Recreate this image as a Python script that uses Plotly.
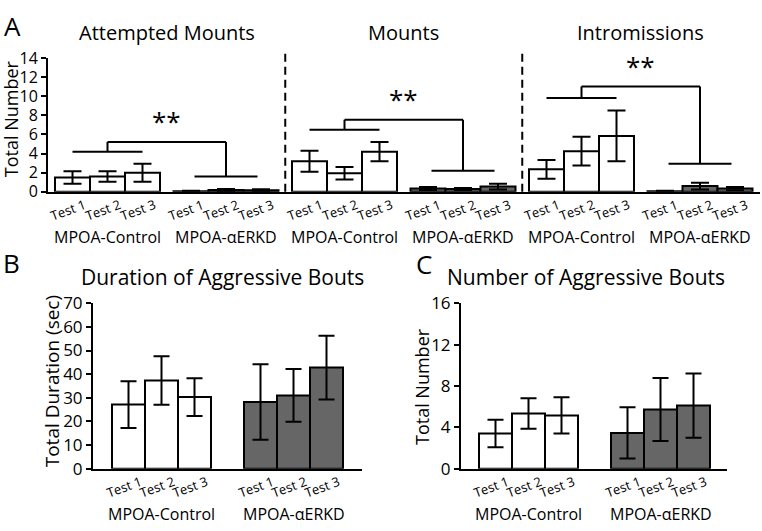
import plotly.graph_objects as go

# ---------------- data ----------------
tests = ["Test 1", "Test 2", "Test 3"]
groups = ["MPOA-Control", "MPOA-αERKD"]
behaviors = ["Attempted Mounts", "Mounts", "Intromissions"]

attempted_ctrl = [1.5, 1.6, 2.0]
attempted_ctrl_err = [0.65, 0.55, 0.95]
attempted_erkd = [0.07, 0.2, 0.17]
attempted_erkd_err = [0.05, 0.1, 0.1]

mounts_ctrl = [3.2, 1.95, 4.2]
mounts_ctrl_err = [1.1, 0.65, 1.0]
mounts_erkd = [0.35, 0.3, 0.55]
mounts_erkd_err = [0.15, 0.1, 0.3]

intro_ctrl = [2.35, 4.25, 5.85]
intro_ctrl_err = [0.97, 1.5, 2.65]
intro_erkd = [0.07, 0.6, 0.35]
intro_erkd_err = [0.05, 0.35, 0.17]

# significance bracket levels (control line, αERKD line, connector) per behavior
bracket_levels = [(4.2, 1.6, 5.2), (6.5, 2.2, 7.55), (9.8, 2.95, 11.0)]

duration_ctrl = [27.1, 37.3, 30.3]
duration_ctrl_err = [9.9, 10.3, 8.0]
duration_erkd = [28.2, 31.0, 42.8]
duration_erkd_err = [16.0, 11.2, 13.5]

number_ctrl = [3.4, 5.33, 5.15]
number_ctrl_err = [1.33, 1.47, 1.75]
number_erkd = [3.45, 5.73, 6.1]
number_erkd_err = [2.48, 3.05, 3.1]

# ---------------- styling ----------------
FONT = "Open Sans"
W, H = 762, 531
WHITE = "#ffffff"
GRAY = "#666666"
fills = [WHITE, GRAY]


def px_x(p):
    return p / W


def px_y(p):
    return 1 - p / H


def txt(**kw):
    d = dict(showarrow=False, xanchor="center", yanchor="middle")
    d.update(kw)
    return d


fig = go.Figure()

# ---------- Panel A geometry ----------
A_bar_px = 35.0
A_first_px = 72.5
A_stride = 118.5 / A_bar_px
A_left, A_right, A_top, A_bot = 48, 760, 48, 188


def posA(g, t):
    return g * A_stride + t


A_vals = [(attempted_ctrl, attempted_ctrl_err), (attempted_erkd, attempted_erkd_err),
          (mounts_ctrl, mounts_ctrl_err), (mounts_erkd, mounts_erkd_err),
          (intro_ctrl, intro_ctrl_err), (intro_erkd, intro_erkd_err)]

annotations = []
shapes = []

for g, (vals, errs) in enumerate(A_vals):
    xs = [posA(g, t) for t in range(3)]
    fig.add_trace(go.Bar(
        x=xs, y=vals, width=1, xaxis="x", yaxis="y",
        marker=dict(color=fills[g % 2], line=dict(color="black", width=2)),
        error_y=dict(type="data", array=errs, color="black", thickness=2, width=9),
        showlegend=False, hoverinfo="skip"))
    for t, x in enumerate(xs):
        annotations.append(txt(x=x, y=0, xref="x", yref="y", text=tests[t],
                               textangle=-20, xshift=-5, yshift=-18,
                               font=dict(family=FONT, size=13, color="black")))
    annotations.append(txt(x=posA(g, 1), y=0, xref="x", yref="y", text=groups[g % 2],
                           yshift=-45, font=dict(family=FONT, size=16, color="black")))

# behavior titles, brackets, stars, dividers
for b, name in enumerate(behaviors):
    gc, ge = 2 * b, 2 * b + 1
    annotations.append(txt(x=(posA(gc, 1) + posA(ge, 1)) / 2, y=px_y(21), xref="x", yref="paper",
                           text=name, font=dict(family=FONT, size=20, color="black")))
    lc, le, top = bracket_levels[b]
    line = dict(color="black", width=2)
    shapes.append(dict(type="line", xref="x", yref="y", x0=posA(gc, 0), x1=posA(gc, 2), y0=lc, y1=lc, line=line))
    shapes.append(dict(type="line", xref="x", yref="y", x0=posA(ge, 0) + 0.1, x1=posA(ge, 2) - 0.1, y0=le, y1=le, line=line))
    shapes.append(dict(type="line", xref="x", yref="y", x0=posA(gc, 1), x1=posA(ge, 1), y0=top, y1=top, line=line))
    shapes.append(dict(type="line", xref="x", yref="y", x0=posA(gc, 1), x1=posA(gc, 1), y0=lc, y1=top, line=line))
    shapes.append(dict(type="line", xref="x", yref="y", x0=posA(ge, 1), x1=posA(ge, 1), y0=le, y1=top, line=line))
    annotations.append(dict(x=(posA(gc, 1) + posA(ge, 1)) / 2, y=top, xref="x", yref="y",
                            text="**", showarrow=False, xanchor="center", yanchor="bottom", yshift=1,
                            font=dict(family=FONT, size=26, color="black")))
    if b > 0:
        xd = ((posA(gc - 1, 2) + 0.5) + (posA(gc, 0) - 0.5)) / 2
        shapes.append(dict(type="line", xref="x", yref="y domain", x0=xd, x1=xd, y0=0, y1=1.057,
                           line=dict(color="black", width=2, dash="8px,5px")))

# ---------- Panels B and C ----------
BC_bar_px = 33.0


def posBC(g, t):
    return g * 4 + t


for (ctrl, ctrl_e, erkd, erkd_e), xa, ya in [
        ((duration_ctrl, duration_ctrl_err, duration_erkd, duration_erkd_err), "x2", "y2"),
        ((number_ctrl, number_ctrl_err, number_erkd, number_erkd_err), "x3", "y3")]:
    for g, (vals, errs) in enumerate([(ctrl, ctrl_e), (erkd, erkd_e)]):
        xs = [posBC(g, t) for t in range(3)]
        fig.add_trace(go.Bar(
            x=xs, y=vals, width=1, xaxis=xa, yaxis=ya,
            marker=dict(color=fills[g], line=dict(color="black", width=2)),
            error_y=dict(type="data", array=errs, color="black", thickness=2, width=8),
            showlegend=False, hoverinfo="skip"))
        for t, x in enumerate(xs):
            annotations.append(txt(x=x, y=0, xref=xa, yref=ya, text=tests[t],
                                   textangle=-20, xshift=-5, yshift=-18,
                                   font=dict(family=FONT, size=13, color="black")))
        annotations.append(txt(x=posBC(g, 1), y=0, xref=xa, yref=ya, text=groups[g],
                               yshift=-45, font=dict(family=FONT, size=16, color="black")))

# panel titles / labels / y titles
annotations += [
    txt(x=px_x(12), y=px_y(15), xref="paper", yref="paper", text="A",
        font=dict(family=FONT, size=26, color="black")),
    txt(x=px_x(11), y=px_y(262), xref="paper", yref="paper", text="B",
        font=dict(family=FONT, size=26, color="black")),
    txt(x=px_x(424), y=px_y(263), xref="paper", yref="paper", text="C",
        font=dict(family=FONT, size=26, color="black")),
    txt(x=px_x(222), y=px_y(277), xref="paper", yref="paper", text="Duration of Aggressive Bouts",
        font=dict(family=FONT, size=21, color="black")),
    txt(x=px_x(586), y=px_y(277), xref="paper", yref="paper", text="Number of Aggressive Bouts",
        font=dict(family=FONT, size=21, color="black")),
    txt(x=px_x(11), y=px_y(112), xref="paper", yref="paper", text="Total Number", textangle=-90,
        font=dict(family=FONT, size=18, color="black")),
    txt(x=px_x(52), y=px_y(386), xref="paper", yref="paper", text="Total Duration (sec)", textangle=-90,
        font=dict(family=FONT, size=19, color="black")),
    txt(x=px_x(422), y=px_y(392), xref="paper", yref="paper", text="Total Number", textangle=-90,
        font=dict(family=FONT, size=18, color="black")),
]

xbase = dict(showline=True, linewidth=2, linecolor="black", showticklabels=False, ticks="",
             showgrid=False, zeroline=False, fixedrange=True)
ybase = dict(showline=True, linewidth=2, linecolor="black", ticks="outside", ticklen=5, tickwidth=2,
             tickcolor="black", showgrid=False, zeroline=False, fixedrange=True,
             tickfont=dict(family=FONT, size=17, color="black"))

B_first, B_left, B_right = 128.5, 93, 362
C_first, C_left, C_right = 495.5, 461, 727
BC_top, BC_bot = 304.5, 477.3

fig.update_layout(
    width=W, height=H, autosize=False,
    margin=dict(l=0, r=0, t=0, b=0),
    paper_bgcolor="white", plot_bgcolor="white",
    font=dict(family=FONT, color="black"),
    barmode="overlay",
    xaxis=dict(xbase, domain=[px_x(A_left), px_x(A_right)], anchor="y",
               range=[(A_left - A_first_px) / A_bar_px, (A_right - A_first_px) / A_bar_px]),
    yaxis=dict(ybase, domain=[px_y(A_bot), px_y(A_top)], anchor="x", range=[0, 14], dtick=2,
               tickfont=dict(family=FONT, size=16, color="black")),
    xaxis2=dict(xbase, domain=[px_x(B_left), px_x(B_right)], anchor="y2",
                range=[(B_left - B_first) / BC_bar_px, (B_right - B_first) / BC_bar_px]),
    yaxis2=dict(ybase, domain=[px_y(BC_bot), px_y(BC_top)], anchor="x2", range=[0, 70], dtick=10),
    xaxis3=dict(xbase, domain=[px_x(C_left), px_x(C_right)], anchor="y3",
                range=[(C_left - C_first) / BC_bar_px, (C_right - C_first) / BC_bar_px]),
    yaxis3=dict(ybase, domain=[px_y(BC_bot), px_y(BC_top)], anchor="x3", range=[0, 16], dtick=4),
    annotations=annotations,
    shapes=shapes,
)

fig.write_html("out.html", config={"displayModeBar": False},
               post_script="document.body.style.margin='0';document.body.style.overflow='hidden';")
